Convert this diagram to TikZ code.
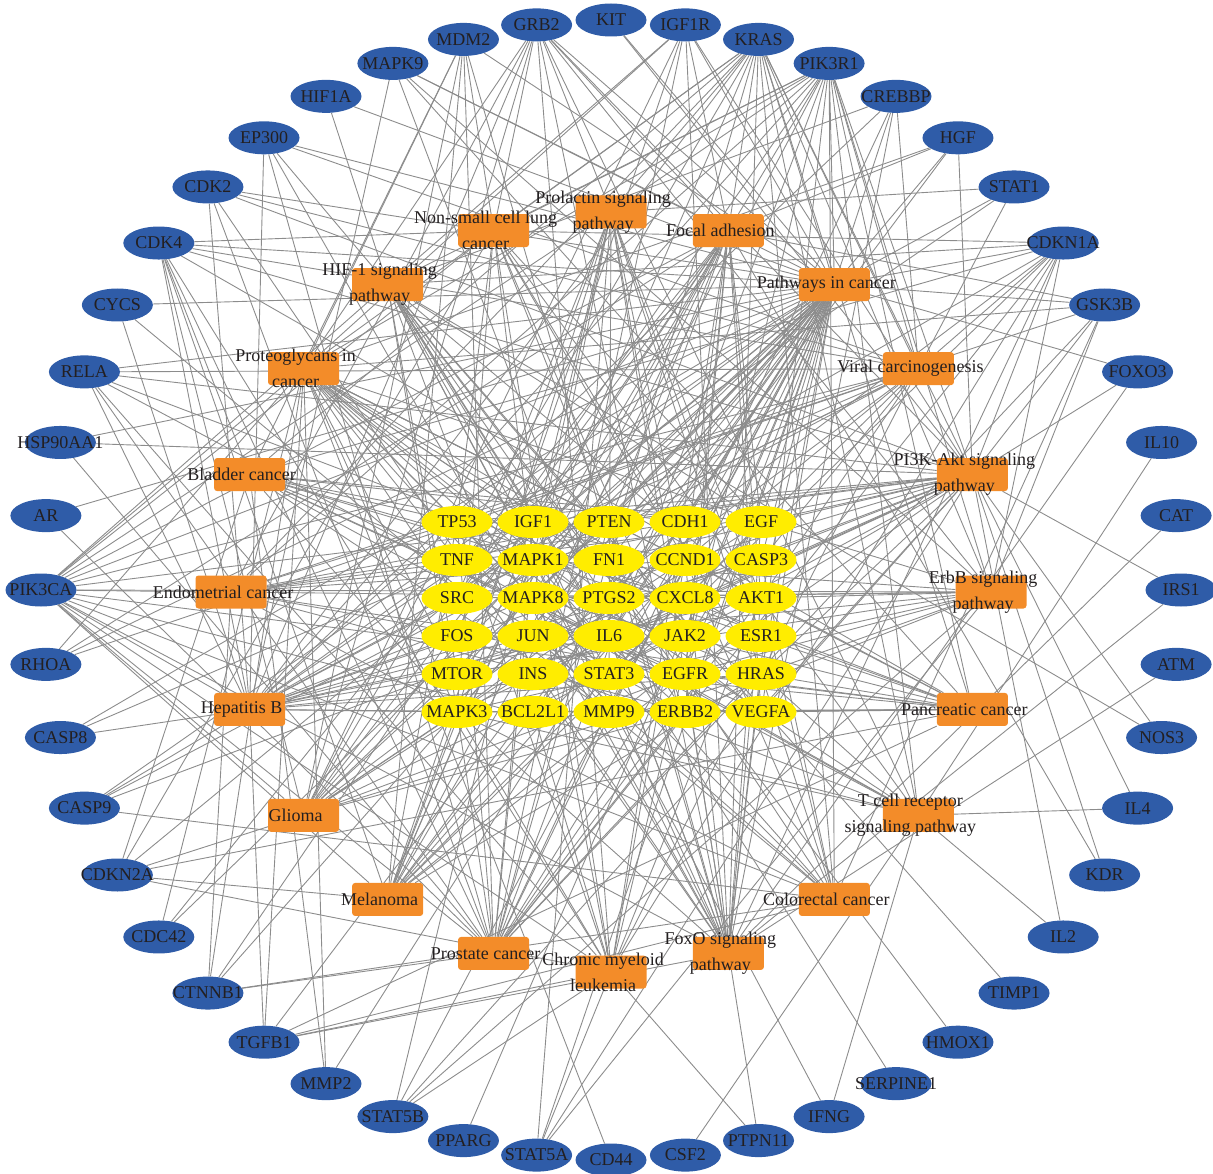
\documentclass[tikz,border=0pt]{standalone}
\usepackage{fontspec}
\setmainfont{Liberation Serif}
\usetikzlibrary{shapes.geometric,backgrounds}
\definecolor{gblue}{RGB}{47,92,168}
\definecolor{porange}{RGB}{243,140,41}
\definecolor{hyellow}{RGB}{255,237,0}
\definecolor{edgegray}{RGB}{140,140,140}
\definecolor{txtc}{RGB}{35,31,32}
\begin{document}
\begin{tikzpicture}[x=1pt,y=-1pt,
  gb/.style={ellipse, fill=gblue, draw=none, minimum width=71pt, minimum height=33pt, inner sep=0pt},
  hy/.style={ellipse, fill=hyellow, draw=none, minimum width=71pt, minimum height=32pt, inner sep=0pt},
  pw/.style={rectangle, rounded corners=3pt, fill=porange, draw=none, minimum width=71pt, minimum height=33pt, inner sep=0pt},
  lt/.style={text=txtc, font=\fontsize{18}{26}\selectfont, inner sep=0pt, align=center},
  edge/.style={draw=edgegray, line width=0.9pt}]
\useasboundingbox (0,0) rectangle (1213,1174);

% outer ring of genes
\foreach \a/\nm in {90/KIT,82.5/IGF1R,75/KRAS,67.5/PIK3R1,60/CREBBP,52.5/HGF,45/STAT1,37.5/CDKN1A,30/GSK3B,22.5/FOXO3,15/IL10,7.5/CAT,0/IRS1,-7.5/ATM,-15/NOS3,-22.5/IL4,-30/KDR,-37.5/IL2,-45/TIMP1,-52.5/HMOX1,-60/SERPINE1,-67.5/IFNG,-75/PTPN11,-82.5/CSF2,-90/CD44,-97.5/STAT5A,-105/PPARG,-112.5/STAT5B,-120/MMP2,-127.5/TGFB1,-135/CTNNB1,-142.5/CDC42,-150/CDKN2A,-157.5/CASP9,-165/CASP8,-172.5/RHOA,180/PIK3CA,172.5/AR,165/HSP90AA1,157.5/RELA,150/CYCS,142.5/CDK4,135/CDK2,127.5/EP300,120/HIF1A,112.5/MAPK9,105/MDM2,97.5/GRB2}
{
  \node[gb] (\nm) at ({611+570*cos(\a)},{590-570*sin(\a)}) {};
  \node[lt] (\nm-t) at (\nm) {\nm};
}

% pathways
\foreach \a/\nm/\lab in {90/pro/{Prolactin signaling\\pathway},72/foc/{Focal adhesion},54/pic/{Pathways in cancer},36/vir/{Viral carcinogenesis},18/pik/{PI3K-Akt signaling\\pathway},0/erb/{ErbB signaling\\pathway},-18/pan/{Pancreatic cancer},-36/tcr/{T cell receptor\\signaling pathway},-54/crc/{Colorectal cancer},-72/fox/{FoxO signaling\\pathway},-90/cml/{Chronic myeloid\\leukemia},-108/prc/{Prostate cancer},-126/mel/{Melanoma},-144/gli/{Glioma},-162/hep/{Hepatitis B},180/endo/{Endometrial cancer},162/bla/{Bladder cancer},144/prt/{Proteoglycans in\\cancer},126/hif/{HIF-1 signaling\\pathway},108/nsc/{Non-small cell lung\\cancer}}
{
  \node[pw] (\nm) at ({611+380*cos(\a)},{592-380*sin(\a)}) {};
  \node[lt, xshift=-8pt] (\nm-t) at (\nm) {\lab};
}

% hub genes
\foreach \nm [count=\i from 0] in {TP53,IGF1,PTEN,CDH1,EGF,TNF,MAPK1,FN1,CCND1,CASP3,SRC,MAPK8,PTGS2,CXCL8,AKT1,FOS,JUN,IL6,JAK2,ESR1,MTOR,INS,STAT3,EGFR,HRAS,MAPK3,BCL2L1,MMP9,ERBB2,VEGFA}
{
  \pgfmathtruncatemacro\cc{mod(\i,5)}
  \pgfmathtruncatemacro\rr{div(\i,5)}
  \node[hy] (\nm) at ({457+76*\cc},{522+38*\rr}) {};
  \node[lt] (\nm-t) at (\nm) {\nm};
}

% edges
\begin{scope}[on background layer]
\foreach \g/\ps in {
 KIT/{pic,pik},
 IGF1R/{foc,pic,pik,fox,prc,mel,gli,prt,hif},
 KRAS/{pro,pic,vir,pik,erb,pan,tcr,crc,fox,cml,prc,mel,gli,hep,endo,bla,prt,nsc},
 PIK3R1/{pro,foc,pic,vir,pik,erb,pan,tcr,crc,fox,cml,prc,mel,gli,hep,endo,prt,hif,nsc},
 CREBBP/{pic,vir,prc,hep,hif,fox},
 HGF/{foc,pic,pik,prt,mel},
 STAT1/{pro,pic,hep,vir},
 CDKN1A/{pic,vir,pik,erb,fox,cml,prc,mel,gli,hep,bla,nsc,hif},
 GSK3B/{foc,pic,pik,erb,prc,endo,crc,prt},
 FOXO3/{fox,pik,pic},
 IL10/{tcr},
 CAT/{fox},
 IRS1/{pik,fox},
 ATM/{fox},
 NOS3/{pik,hif},
 IL4/{pik,tcr},
 KDR/{foc,pik},
 IL2/{tcr,pik},
 TIMP1/{hif},
 HMOX1/{hif},
 SERPINE1/{hif},
 IFNG/{tcr,hif},
 PTPN11/{pro,cml},
 CSF2/{tcr},
 CD44/{prt},
 STAT5A/{pro,pic,pik,erb,cml},
 STAT5B/{pro,pic,pik,erb,cml},
 PPARG/{pic},
 MMP2/{pic,prt,bla},
 TGFB1/{pic,pan,crc,cml,hep,fox,prt},
 CTNNB1/{foc,pic,crc,endo,prt,prc},
 CDC42/{foc,pic,prt},
 CDKN2A/{pic,pan,mel,gli,bla,nsc,cml},
 CASP9/{pic,pik,crc,hep,vir},
 CASP8/{pic,hep,vir},
 RHOA/{foc,pic,prt,vir},
 PIK3CA/{pro,foc,pic,vir,pik,erb,pan,tcr,crc,fox,cml,prc,mel,gli,hep,endo,prt,hif,nsc},
 AR/{pic,prc},
 HSP90AA1/{pic,pik,prc},
 RELA/{pic,vir,pik,pan,tcr,cml,prc,hep},
 CYCS/{pic,crc,hep},
 CDK4/{pic,vir,pik,pan,cml,prc,mel,gli,hep,bla,nsc},
 CDK2/{pic,vir,pik,fox,prc,hep},
 EP300/{pic,vir,prc,hep,hif,fox},
 HIF1A/{hif,pic},
 MAPK9/{pic,foc,erb,pan,fox,hep},
 MDM2/{pic,fox,prc,mel,gli,bla,cml,prt},
 GRB2/{pro,foc,pic,pik,erb,tcr,fox,cml,hep,endo,gli,nsc,prt},
 TP53/{pic,vir,pik,pan,crc,cml,prc,mel,gli,hep,endo,bla,prt,nsc},
 IGF1/{pik,foc,fox,prc,mel,gli,prt,hif},
 PTEN/{pik,foc,fox,prc,mel,gli,endo,pic,prt},
 CDH1/{pic,endo,bla,mel},
 EGF/{pic,pik,foc,erb,prc,mel,gli,bla,endo,nsc,prt,fox,hif},
 TNF/{hep,tcr,prt,pic},
 MAPK1/{pro,foc,pic,vir,pik,erb,pan,tcr,crc,fox,cml,prc,mel,gli,hep,endo,bla,prt,hif,nsc},
 FN1/{foc,pik,pic,prt},
 CCND1/{pro,foc,pic,vir,pik,pan,crc,cml,prc,mel,gli,hep,endo,bla,prt,nsc,fox},
 CASP3/{pic,crc,hep,vir},
 SRC/{pro,foc,erb,vir,prt,hep,pic},
 MAPK8/{pic,foc,erb,pan,fox,hep,prt,pro,tcr},
 PTGS2/{pic},
 CXCL8/{pic,bla},
 AKT1/{pro,foc,pic,vir,pik,erb,pan,tcr,crc,fox,cml,prc,mel,gli,hep,endo,prt,hif,nsc},
 FOS/{pro,tcr,hep,pic},
 JUN/{pic,erb,foc,crc,hep},
 IL6/{pic,pik,hif,fox,hep},
 JAK2/{pro,pic,hep},
 ESR1/{pro,prt},
 MTOR/{pik,erb,prt,hif,pic,gli},
 INS/{pik,fox,hif},
 STAT3/{pro,pic,pan,hep,vir,prt,hif},
 EGFR/{pic,pik,foc,erb,pan,crc,prc,mel,gli,bla,endo,nsc,prt,hif,fox},
 HRAS/{pro,pic,vir,pik,erb,pan,tcr,crc,fox,cml,prc,mel,gli,hep,endo,bla,prt,nsc},
 MAPK3/{pro,foc,pic,vir,pik,erb,pan,tcr,crc,fox,cml,prc,mel,gli,hep,endo,bla,prt,hif,nsc},
 BCL2L1/{pic,pik,pan,cml,hep},
 MMP9/{pic,bla,prt},
 ERBB2/{pic,foc,erb,pan,prc,bla,endo,nsc,prt,hif,gli},
 VEGFA/{pic,pik,foc,pan,hif,bla,prt}}
{
  \foreach \p in \ps { \draw[edge] (\g) -- (\p); }
}
\end{scope}
\end{tikzpicture}
\end{document}
